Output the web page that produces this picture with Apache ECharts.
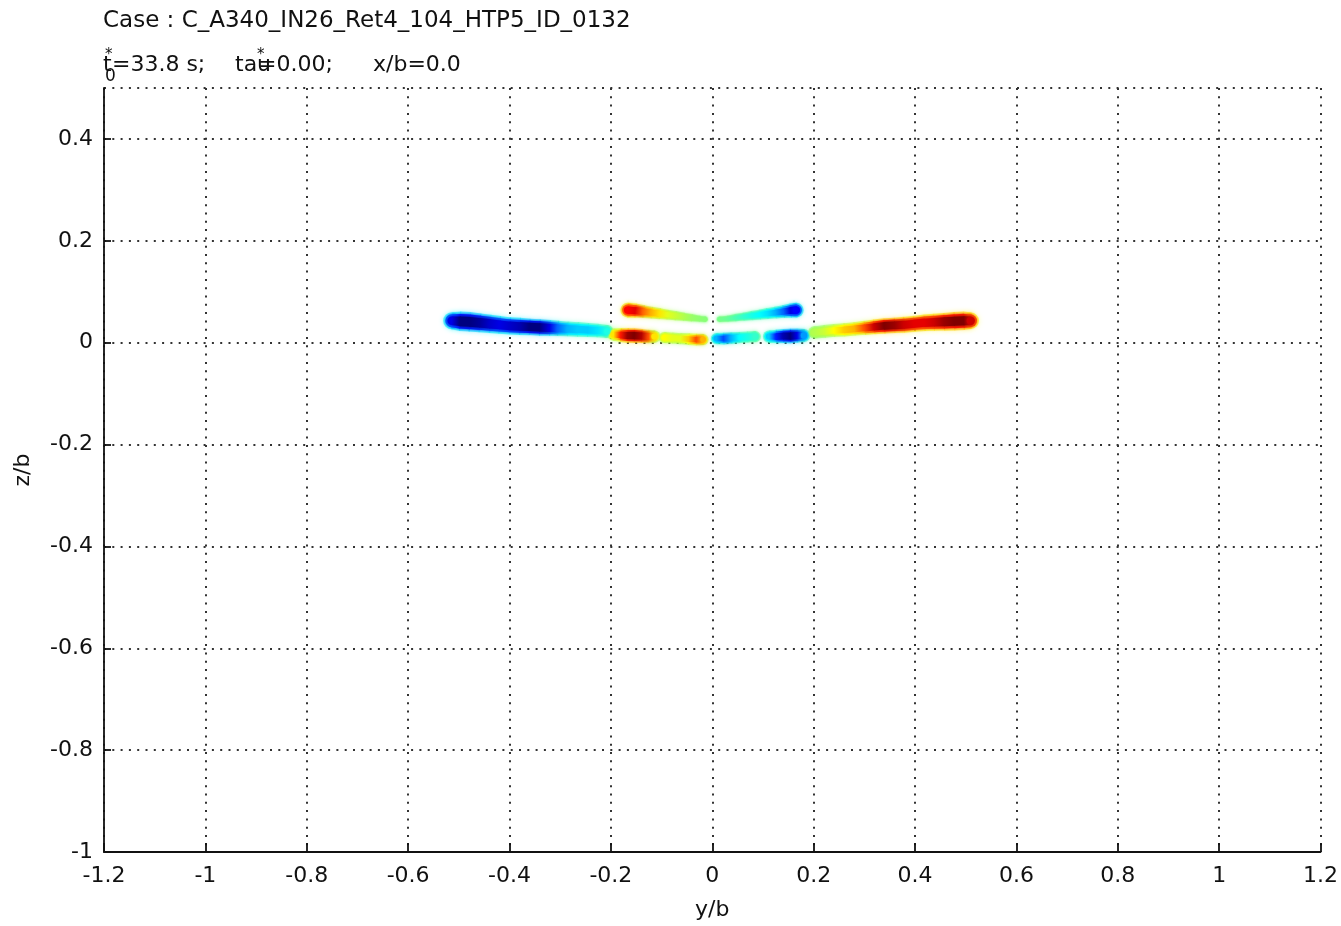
<!DOCTYPE html>
<html>
<head>
<meta charset="utf-8">
<script src="https://cdn.jsdelivr.net/npm/echarts@6/dist/echarts.min.js"></script>
<style>
  html, body { margin: 0; padding: 0; background: #fff; }
  #chart { width: 1341px; height: 926px; }
</style>
</head>
<body>
<div id="chart"></div>
<script>
// axis ticks
var yTicksMin = -1.2, yTicksMax = 1.2;   // y/b
var zTicksMin = -1, zTicksMax = 0.5;     // z/b
var tickStep = 0.2;

// vortex sheets, each point: [y/b, z/b, value, thickness in z/b]
// value runs from -1 (dark blue) to 1 (dark red)
var sheetLeft = [
  [-0.514, 0.043, -0.80, 0.028],
  [-0.498, 0.042, -1.00, 0.032],
  [-0.479, 0.041, -1.00, 0.032],
  [-0.459, 0.039, -0.95, 0.031],
  [-0.439, 0.037, -0.85, 0.030],
  [-0.420, 0.035, -0.80, 0.029],
  [-0.400, 0.033, -0.85, 0.028],
  [-0.380, 0.032, -0.90, 0.028],
  [-0.361, 0.031, -1.00, 0.027],
  [-0.341, 0.030, -1.00, 0.027],
  [-0.321, 0.029, -0.80, 0.026],
  [-0.305, 0.028, -0.55, 0.025],
  [-0.286, 0.027, -0.40, 0.024],
  [-0.266, 0.026, -0.35, 0.024],
  [-0.246, 0.025, -0.35, 0.023],
  [-0.227, 0.024, -0.30, 0.022],
  [-0.207, 0.022, -0.20, 0.021]
];
var tipUpperLeft = [
  [-0.167, 0.064, 0.75, 0.024],
  [-0.152, 0.063, 0.80, 0.023],
  [-0.136, 0.061, 0.55, 0.021],
  [-0.120, 0.059, 0.40, 0.019],
  [-0.104, 0.057, 0.30, 0.018],
  [-0.089, 0.055, 0.20, 0.016],
  [-0.073, 0.053, 0.15, 0.015],
  [-0.057, 0.051, 0.10, 0.013],
  [-0.041, 0.049, 0.05, 0.012],
  [-0.026, 0.047, 0.03, 0.010],
  [-0.014, 0.046, 0.02, 0.009]
];
var patchLeft = [
  [-0.195, 0.016, 0.30, 0.020],
  [-0.181, 0.015, 0.70, 0.023],
  [-0.167, 0.014, 0.95, 0.024],
  [-0.154, 0.014, 1.00, 0.024],
  [-0.140, 0.013, 0.90, 0.023],
  [-0.126, 0.012, 0.60, 0.022],
  [-0.114, 0.012, 0.30, 0.020]
];
var coreLeft = [
  [-0.095, 0.010, 0.25, 0.018],
  [-0.079, 0.009, 0.20, 0.018],
  [-0.063, 0.008, 0.20, 0.018],
  [-0.047, 0.007, 0.35, 0.019],
  [-0.032, 0.006, 0.60, 0.019],
  [-0.018, 0.006, 0.40, 0.018]
];
var coreRight = [
  [0.008, 0.008, -0.40, 0.018],
  [0.022, 0.008, -0.60, 0.019],
  [0.037, 0.009, -0.40, 0.019],
  [0.053, 0.010, -0.25, 0.018],
  [0.069, 0.011, -0.20, 0.018],
  [0.085, 0.012, -0.15, 0.018]
];
var patchRight = [
  [0.112, 0.012, -0.35, 0.020],
  [0.126, 0.012, -0.70, 0.022],
  [0.140, 0.013, -0.90, 0.023],
  [0.154, 0.013, -1.00, 0.024],
  [0.167, 0.014, -0.80, 0.023],
  [0.181, 0.014, -0.45, 0.021]
];
var tipUpperRight = [
  [0.014, 0.046, -0.02, 0.009],
  [0.030, 0.047, -0.05, 0.010],
  [0.045, 0.049, -0.10, 0.012],
  [0.061, 0.051, -0.15, 0.013],
  [0.077, 0.053, -0.20, 0.015],
  [0.093, 0.055, -0.25, 0.016],
  [0.108, 0.057, -0.30, 0.018],
  [0.124, 0.059, -0.40, 0.019],
  [0.140, 0.061, -0.55, 0.021],
  [0.154, 0.063, -0.80, 0.023],
  [0.166, 0.064, -0.75, 0.024]
];
var sheetRight = [
  [0.201, 0.020, 0.10, 0.020],
  [0.221, 0.022, 0.15, 0.021],
  [0.240, 0.024, 0.25, 0.021],
  [0.260, 0.025, 0.35, 0.022],
  [0.280, 0.027, 0.40, 0.022],
  [0.300, 0.029, 0.60, 0.023],
  [0.319, 0.031, 0.85, 0.024],
  [0.339, 0.033, 1.00, 0.025],
  [0.359, 0.034, 0.95, 0.025],
  [0.378, 0.035, 0.85, 0.026],
  [0.398, 0.037, 0.80, 0.026],
  [0.418, 0.039, 0.80, 0.027],
  [0.437, 0.040, 0.85, 0.028],
  [0.457, 0.041, 0.95, 0.029],
  [0.477, 0.042, 1.00, 0.030],
  [0.496, 0.043, 1.00, 0.030],
  [0.510, 0.043, 0.85, 0.027]
];

var sheets = [sheetLeft, tipUpperLeft, patchLeft, coreLeft, coreRight, patchRight, tipUpperRight, sheetRight];

var FONT = 'DejaVu Sans';
var INK = '#111';
var JET = ['#00007f', '#0000ff', '#007fff', '#00ffff', '#7fff7f', '#ffff00', '#ff7f00', '#ff0000', '#7f0000'];

function jet(v) {
  return echarts.color.lerp((v + 1) / 2, JET);
}
// edge colour: pulled toward the middle of the map, a bit transparent
function pale(v) {
  return echarts.color.modifyAlpha(echarts.color.lerp((v * 0.3 + 1) / 2, JET), 0.6);
}
function mid(v) {
  return echarts.color.lerp((v * 0.7 + 1) / 2, JET);
}

// one layer of one sheet: segments between neighbouring points, gradient along the sheet
function sheetLayer(data, colorFn, widthK, z, blur) {
  return {
    type: 'custom',
    coordinateSystem: 'cartesian2d',
    silent: true,
    z: z,
    encode: { x: 0, y: 1 },
    data: data,
    renderItem: function (params, api) {
      var i = params.dataIndex;
      var d = data[i];
      var p0 = api.coord([d[0], d[1]]);
      var w0 = api.size([0, d[3]])[1] * widthK;
      var c0 = colorFn(d[2]);
      var kids = [];
      if (i === 0 || i === data.length - 1) {
        kids.push({
          type: 'circle',
          shape: { cx: p0[0], cy: p0[1], r: w0 / 2 },
          style: { fill: c0, shadowBlur: blur, shadowColor: c0 }
        });
      }
      if (i < data.length - 1) {
        var e = data[i + 1];
        var p1 = api.coord([e[0], e[1]]);
        var w1 = api.size([0, e[3]])[1] * widthK;
        var c1 = colorFn(e[2]);
        var dx = p1[0] - p0[0], dy = p1[1] - p0[1];
        var len = Math.sqrt(dx * dx + dy * dy);
        var ux = dx / len, uy = dy / len;
        var nx = -uy, ny = ux;
        var q1 = [p1[0] + ux * 0.8, p1[1] + uy * 0.8];
        kids.push({
          type: 'polygon',
          shape: {
            points: [
              [p0[0] + nx * w0 / 2, p0[1] + ny * w0 / 2],
              [q1[0] + nx * w1 / 2, q1[1] + ny * w1 / 2],
              [q1[0] - nx * w1 / 2, q1[1] - ny * w1 / 2],
              [p0[0] - nx * w0 / 2, p0[1] - ny * w0 / 2]
            ]
          },
          style: {
            fill: new echarts.graphic.LinearGradient(p0[0], p0[1], p1[0], p1[1],
              [{ offset: 0, color: c0 }, { offset: 1, color: c1 }], true),
            shadowBlur: blur,
            shadowColor: c0
          }
        });
      }
      return { type: 'group', children: kids };
    }
  };
}

var series = [];
sheets.forEach(function (s) { series.push(sheetLayer(s, pale, 1.2, 2, 5)); });
sheets.forEach(function (s) { series.push(sheetLayer(s, mid, 0.9, 3, 3)); });
sheets.forEach(function (s) { series.push(sheetLayer(s, jet, 0.6, 4, 3)); });

var chart = echarts.init(document.getElementById('chart'));

var axisText = { fontFamily: FONT, fontSize: 22, color: INK };
var grid = { type: [2, 6.3], width: 2, color: '#333' };

var option = {
  animation: false,
  backgroundColor: '#fff',
  grid: { left: 104, right: 19, top: 88, bottom: 74 },
  xAxis: {
    type: 'value',
    min: yTicksMin, max: yTicksMax, interval: tickStep,
    name: 'y/b', nameLocation: 'middle', nameGap: 47,
    nameTextStyle: axisText,
    axisLine: { onZero: false, lineStyle: { color: '#111', width: 1.8 } },
    axisTick: { inside: true, length: 9, lineStyle: { color: '#111', width: 1.8 } },
    axisLabel: Object.assign({ margin: 13 }, axisText),
    splitLine: { show: true, lineStyle: grid }
  },
  yAxis: {
    type: 'value',
    min: zTicksMin, max: zTicksMax, interval: tickStep,
    name: 'z/b', nameLocation: 'middle', nameGap: 70,
    nameTextStyle: axisText,
    axisLine: { onZero: false, lineStyle: { color: '#111', width: 1.8 } },
    axisTick: { inside: true, length: 7, lineStyle: { color: '#111', width: 1.8 } },
    axisLabel: Object.assign({ margin: 11, showMaxLabel: false }, axisText),
    splitLine: { show: true, lineStyle: grid }
  },
  graphic: [
    { type: 'text', x: 103, y: 21, style: { text: 'Case : C_A340_IN26_Ret4_104_HTP5_ID_0132', font: '23px "DejaVu Sans"', fill: INK, verticalAlign: 'middle' } },
    { type: 'text', x: 103, y: 65, style: { text: 't', font: '22px "DejaVu Sans"', fill: INK, verticalAlign: 'middle' } },
    { type: 'text', x: 105, y: 55, style: { text: '*', font: '15px "DejaVu Sans"', fill: INK, verticalAlign: 'middle' } },
    { type: 'text', x: 105, y: 77, style: { text: '0', font: '17px "DejaVu Sans"', fill: INK, verticalAlign: 'middle' } },
    { type: 'text', x: 112, y: 65, style: { text: '=33.8 s;', font: '22px "DejaVu Sans"', fill: INK, verticalAlign: 'middle' } },
    { type: 'text', x: 235, y: 65, style: { text: 'tau', font: '22px "DejaVu Sans"', fill: INK, verticalAlign: 'middle' } },
    { type: 'text', x: 257, y: 55, style: { text: '*', font: '15px "DejaVu Sans"', fill: INK, verticalAlign: 'middle' } },
    { type: 'text', x: 258, y: 65, style: { text: '=0.00;', font: '22px "DejaVu Sans"', fill: INK, verticalAlign: 'middle' } },
    { type: 'text', x: 373, y: 65, style: { text: 'x/b=0.0', font: '22px "DejaVu Sans"', fill: INK, verticalAlign: 'middle' } }
  ],
  series: series
};

chart.setOption(option);
</script>
</body>
</html>
